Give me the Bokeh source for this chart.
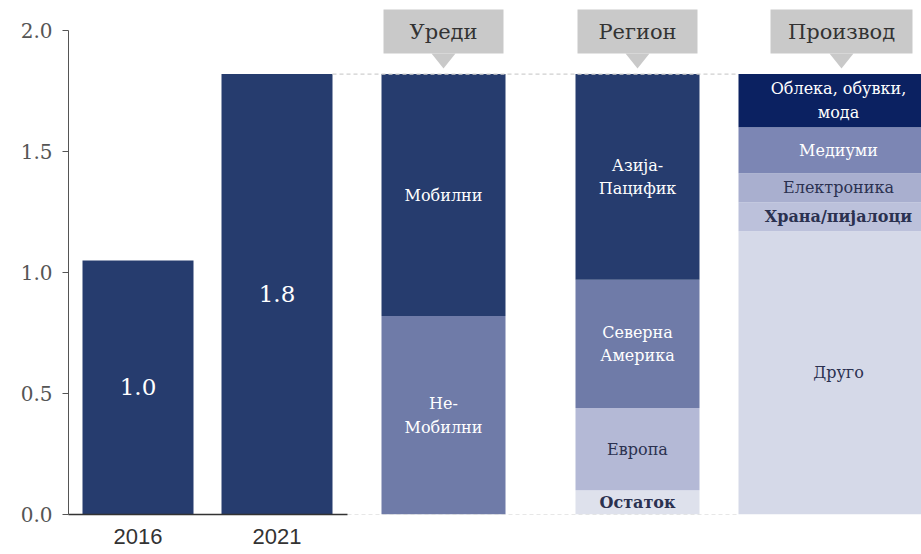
from bokeh.plotting import figure
from bokeh.models import ColumnDataSource, Range1d, FixedTicker, PrintfTickFormatter
from bokeh.core.properties import value
from bokeh.embed import file_html
from bokeh.resources import INLINE
import numpy as np

# ---------------- data ----------------
years = ["2016", "2021"]
market_size = [1.05, 1.82]
market_labels = ["1.0", "1.8"]

group_titles = ["Уреди", "Регион", "Производ"]

# stacks listed bottom -> top
device_cats = ["Не-\nМобилни", "Мобилни"]
device_vals = [0.82, 1.00]

region_cats = ["Остаток", "Европа", "Северна\nАмерика", "Азија-\nПацифик"]
region_vals = [0.10, 0.34, 0.53, 0.85]

product_cats = ["Друго", "Храна/пијалоци", "Електроника", "Медиуми", "Облека, обувки,\nмода"]
product_vals = [1.17, 0.12, 0.12, 0.19, 0.22]

y_ticks = [0.0, 0.5, 1.0, 1.5, 2.0]

# ---------------- layout / style ----------------
FRAME_W = 853
PX = 242.0                      # pixels per unit on y
Y_TOP = 514 / PX
year_x = [69.5, 208.5]
year_w = 111
group_x = [375, 569, 770]
group_w = [124, 124, 200]
callout_x = [375, 569, 773]
callout_w = [120, 120, 142]

NAVY = "#263C6E"
DARK_TXT = "#2B3150"
device_colors = ["#6F7BA8", NAVY]
region_colors = ["#DEE1EC", "#B4B9D6", "#6F7BA8", NAVY]
product_colors = ["#D5D9E8", "#BCC1DB", "#A9AFCF", "#7C86B4", "#0B2161"]
device_txt = ["white", "white"]
region_txt = [DARK_TXT, DARK_TXT, "white", "white"]
product_txt = [DARK_TXT, DARK_TXT, DARK_TXT, "white", "white"]
region_style = ["bold", "normal", "normal", "normal"]
product_style = ["normal", "bold", "normal", "normal", "normal"]
device_style = ["normal", "normal"]

SERIF = "DejaVu Serif"

p = figure(width=921, height=554, output_backend="svg", toolbar_location=None,
           x_range=Range1d(0, FRAME_W), y_range=Range1d(0, Y_TOP),
           min_border_left=68, min_border_right=0, min_border_top=0, min_border_bottom=40)
p.outline_line_color = None
p.xgrid.visible = False
p.ygrid.visible = False
p.background_fill_color = "white"
p.border_fill_color = "white"

# ---- total bars ----
src_tot = ColumnDataSource(dict(x=year_x, top=market_size, lab=market_labels,
                                ymid=[v / 2 for v in market_size]))
p.vbar(x="x", top="top", bottom=0, width=year_w, source=src_tot,
       fill_color=NAVY, line_color=None)
p.text(x="x", y="ymid", text="lab", source=src_tot, text_color="white",
       text_font=value(SERIF), text_font_size="23px",
       text_align="center", text_baseline="middle")

# ---- stacked bars ----
stacks = [
    (device_cats, device_vals, device_colors, device_txt, device_style),
    (region_cats, region_vals, region_colors, region_txt, region_style),
    (product_cats, product_vals, product_colors, product_txt, product_style),
]
for i, (cats, vals, cols, tcols, styles) in enumerate(stacks):
    tops = list(np.cumsum(vals))
    bottoms = [0.0] + tops[:-1]
    src = ColumnDataSource(dict(
        x=[group_x[i]] * len(cats), top=tops, bottom=bottoms, color=cols,
        lab=cats, ymid=[(a + b) / 2 for a, b in zip(tops, bottoms)],
        tcol=tcols, style=styles))
    p.vbar(x="x", top="top", bottom="bottom", width=group_w[i], source=src,
           fill_color="color", line_color=None)
    p.text(x="x", y="ymid", text="lab", source=src, text_color="tcol",
           text_font=value(SERIF), text_font_size="16px", text_font_style="style",
           text_align="center", text_baseline="middle", text_line_height=1.25)

# ---- dashed guide lines ----
total = market_size[1]
left_edge = year_x[1] + year_w / 2
right_edge = group_x[2] - group_w[2] / 2
p.segment(x0=[left_edge], y0=[total], x1=[right_edge], y1=[total],
          line_color="#CFCFCF", line_width=1.2, line_dash="4 3")
axis_end = left_edge + 15
p.segment(x0=[axis_end], y0=[0], x1=[right_edge], y1=[0],
          line_color="#CFCFCF", line_width=1.2, line_dash="4 3")

# ---- callouts ----
box_top = Y_TOP - 9 / PX
box_bot = Y_TOP - 53 / PX
tip = Y_TOP - 68 / PX
p.quad(left=[c - w / 2 for c, w in zip(callout_x, callout_w)],
       right=[c + w / 2 for c, w in zip(callout_x, callout_w)],
       top=box_top, bottom=box_bot, fill_color="#C9C9C9", line_color=None)
p.patches(xs=[[c - 12, c + 12, c] for c in callout_x],
          ys=[[box_bot, box_bot, tip] for _ in callout_x],
          fill_color="#C9C9C9", line_color=None)
p.text(x=callout_x, y=[(box_top + box_bot) / 2] * 3, text=group_titles,
       text_color="#333333", text_font=value(SERIF), text_font_size="21px",
       text_align="center", text_baseline="middle")

# ---- axes ----
ya = p.yaxis[0]
ya.ticker = FixedTicker(ticks=y_ticks)
ya.formatter = PrintfTickFormatter(format="%.1f")
ya.bounds = (0, y_ticks[-1])
ya.axis_line_color = "#555555"
ya.major_tick_line_color = "#555555"
ya.major_tick_out = 6
ya.major_tick_in = 0
ya.minor_tick_line_color = None
ya.major_label_text_font = SERIF
ya.major_label_text_font_size = "20px"
ya.major_label_text_color = "#555555"
ya.major_label_standoff = 10

xa = p.xaxis[0]
xa.ticker = FixedTicker(ticks=year_x)
xa.major_label_overrides = {year_x[0]: years[0], year_x[1]: years[1]}
xa.bounds = (0, axis_end)
xa.axis_line_color = "#333333"
xa.axis_line_width = 1.5
xa.major_tick_line_color = None
xa.major_tick_out = 0
xa.major_tick_in = 0
xa.minor_tick_line_color = None
xa.major_label_text_font = "Liberation Sans"
xa.major_label_text_font_size = "22px"
xa.major_label_text_color = "#333333"
xa.major_label_standoff = 14

open("out.html", "w").write(file_html(p, INLINE))
